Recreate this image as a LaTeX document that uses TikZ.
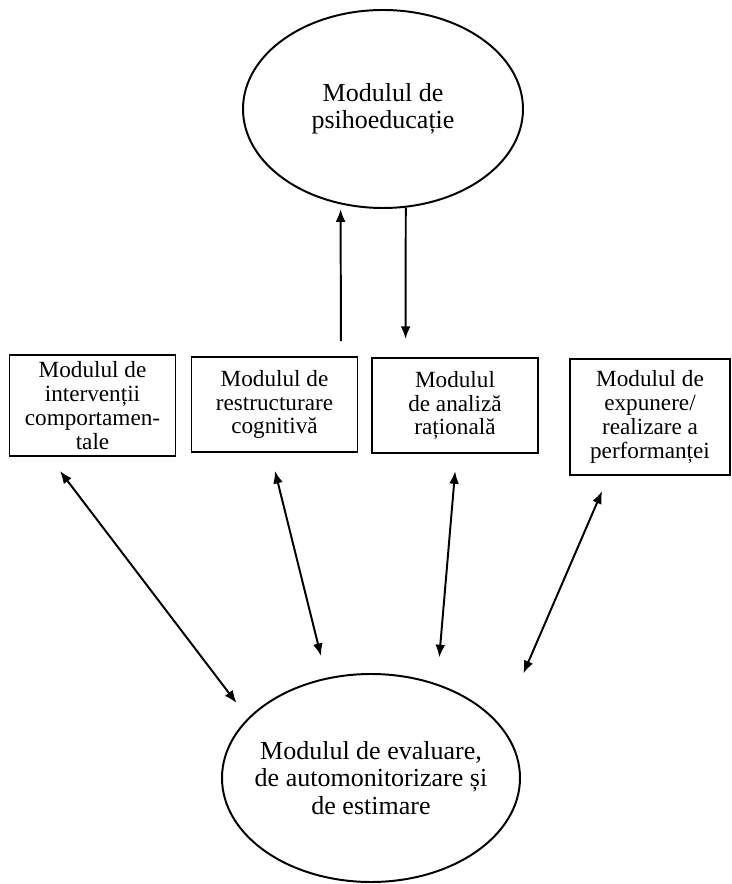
\documentclass[tikz,border=0pt]{standalone}
\usepackage{fontspec}
\setmainfont{Liberation Serif}
\usepackage{tikz}
\usetikzlibrary{shapes.geometric, arrows.meta}
\pgfdeclarelayer{edgelayer}
\pgfdeclarelayer{nodelayer}
\pgfsetlayers{edgelayer,nodelayer,main}
\newcommand{\boxfont}{\fontsize{16.5}{17}\selectfont}
\newcommand{\ovalfont}{\fontsize{18.5}{19.5}\selectfont}
\tikzstyle{module}=[rectangle, draw=black, fill=white, line width=1.4pt, minimum width=4.15cm, align=center, inner sep=2pt, font=\boxfont]
\tikzstyle{oval}=[ellipse, draw=black, fill=white, line width=1.4pt, inner sep=0pt, inner xsep=-1cm, align=center, font=\ovalfont]
\tikzstyle{single}=[draw=black, line width=1.4pt, -{Latex[length=9pt, width=7pt]}]
\tikzstyle{bidir}=[draw=black, line width=1.4pt, {Latex[length=9pt, width=7pt]}-{Latex[length=9pt, width=7pt]}]

\begin{document}
\begin{tikzpicture}
	\useasboundingbox (0, 0) rectangle (18.3, 22.1);
	\begin{pgfonlayer}{nodelayer}
		\node [style=oval, minimum width=7cm, minimum height=4.95cm] (0) at (9.575, 19.375) {Modulul de\\psihoeducație};
		\node [style=module, minimum height=2.525cm] (1) at (2.3125, 11.9625) {Modulul de\\intervenții\\comportamen-\\tale};
		\node [style=module, minimum height=2.375cm] (2) at (6.8625, 11.9875) {Modulul de\\restructurare\\cognitivă};
		\node [style=module, minimum height=2.375cm] (3) at (11.375, 11.9625) {Modulul\\de analiză\\rațională};
		\node [style=module, minimum width=4cm, minimum height=2.9cm] (4) at (16.25, 11.675) {Modulul de\\expunere/\\realizare a\\performanței};
		\node [style=oval, minimum width=7.45cm, minimum height=5.2cm] (5) at (9.275, 2.65) {Modulul de evaluare,\\de automonitorizare și\\de estimare};
	\end{pgfonlayer}
	\begin{pgfonlayer}{edgelayer}
		\draw [style=single, shorten <=0.375cm, shorten >=0.12cm] ([xshift=1.6625cm]2.north) to (0.246);
		\draw [style=single, shorten >=0.45cm] (0.283) to ([xshift=-1.236cm]3.north);
		\draw [style=bidir, shorten <=0.44cm, shorten >=0.47cm] ([xshift=-1.08cm]1.south) to (5.154);
		\draw [style=bidir, shorten <=0.46cm, shorten >=0.56cm] ([xshift=-0.1cm]2.south) to (5.114);
		\draw [style=bidir, shorten <=0.43cm, shorten >=0.66cm] ([xshift=0.04cm]3.south) to (5.55);
		\draw [style=bidir, shorten <=0.41cm, shorten >=1.42cm] ([xshift=-1.035cm]4.south) to (5.22);
	\end{pgfonlayer}
\end{tikzpicture}
\end{document}
